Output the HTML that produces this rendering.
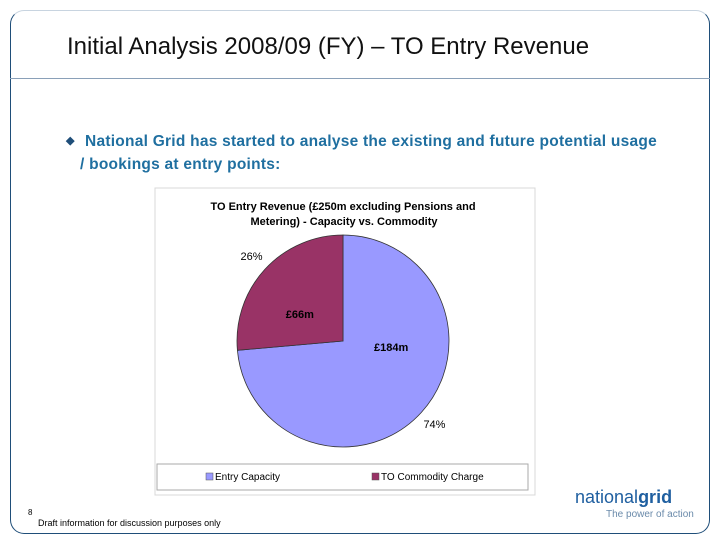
<!DOCTYPE html>
<html><head><meta charset="utf-8"><style>
body{margin:0;width:720px;height:540px;background:#fff;font-family:"Liberation Sans",sans-serif;overflow:hidden;position:relative}
.frame{position:absolute;left:10px;top:10px;width:700px;height:524px;border:1px solid #1f4e79;border-radius:14px;border-top-color:#c8d4e0;box-sizing:border-box}
.hline{position:absolute;left:10px;top:78px;width:700px;height:1px;background:#8aa0b8}
.title{position:absolute;left:67px;top:33px;font-size:24px;color:#111;white-space:nowrap}
.bullet{position:absolute;left:85px;top:130px;font-size:15.5px;color:#1f6fa0;font-weight:bold;line-height:23px;width:640px;white-space:nowrap;letter-spacing:0.25px}
.foot{position:absolute;left:38px;top:518px;font-size:9px;color:#000}
.pg{position:absolute;left:28px;top:508px;font-size:8px}
.logo{position:absolute;left:575px;top:487px;font-size:18px;color:#1f5fa0}
.tag{position:absolute;left:606px;top:509px;font-size:10px;color:#6a8aaa}
</style></head><body>
<div class="frame"></div>
<div class="hline"></div>
<div class="title">Initial Analysis 2008/09 (FY) – TO Entry Revenue</div>
<div class="bullet"><span style="position:absolute;left:-19px;font-size:11px;color:#1f4e79">◆</span>National Grid has started to analyse the existing and future potential usage<br><span style="margin-left:-5px">/ bookings at entry points:</span></div>
<svg id="chart" width="720" height="540" style="position:absolute;left:0;top:0">
<rect x="155" y="188" width="380" height="307" fill="#fff" stroke="#d8d8d8"/>
<text x="343" y="210" text-anchor="middle" font-size="11" font-weight="bold" font-family="Liberation Sans">TO Entry Revenue (£250m excluding Pensions and</text>
<text x="344" y="225" text-anchor="middle" font-size="11" font-weight="bold" font-family="Liberation Sans">Metering) - Capacity vs. Commodity</text>
<g id="slices"></g>
<rect x="157" y="464" width="371" height="26" fill="#fff" stroke="#aaa"/>
<rect x="206" y="473" width="7" height="7" fill="#9999FF" stroke="#555" stroke-width="0.5"/>
<text x="215" y="480" font-size="10" font-family="Liberation Sans">Entry Capacity</text>
<rect x="372" y="473" width="7" height="7" fill="#993366" stroke="#555" stroke-width="0.5"/>
<text x="381" y="480" font-size="10" font-family="Liberation Sans">TO Commodity Charge</text>
</svg>
<div class="pg">8</div>
<div class="foot">Draft information for discussion purposes only</div>
<div class="logo">national<b>grid</b></div>
<div class="tag">The power of action</div>
<script>
const categories=["Entry Capacity","TO Commodity Charge"];
const values=[184,66];
const pctLabels=["74%","26%"];
const valueLabels=["£184m","£66m"];
const colors=["#9999FF","#993366"];
const cx=343,cy=341,r=106;
const g=document.getElementById('slices');
const ns="http://www.w3.org/2000/svg";
const total=values.reduce((a,b)=>a+b,0);
let a0=0;
function pt(a,rr){return [cx+rr*Math.sin(a),cy-rr*Math.cos(a)];}
values.forEach((v,i)=>{
  const a1=a0+v/total*2*Math.PI;
  const p0=pt(a0,r),p1=pt(a1,r);
  const large=(a1-a0)>Math.PI?1:0;
  const p=document.createElementNS(ns,'path');
  p.setAttribute('d',`M${cx},${cy}L${p0[0]},${p0[1]}A${r},${r} 0 ${large} 1 ${p1[0]},${p1[1]}Z`);
  p.setAttribute('fill',colors[i]);p.setAttribute('stroke','#333');p.setAttribute('stroke-width','0.8');
  
  
  g.appendChild(p);
  const m=(a0+a1)/2;
  const lp=pt(m,r*0.45);
  const t=document.createElementNS(ns,'text');
  const dx=i===0?13:-8, dy=i===0?-26:5;
  t.setAttribute('x',lp[0]+dx);t.setAttribute('y',lp[1]+4+dy);t.setAttribute('text-anchor','middle');
  t.setAttribute('font-size','11');t.setAttribute('font-weight','bold');t.setAttribute('font-family','Liberation Sans');
  t.textContent=valueLabels[i];
  
  
  g.appendChild(t);
  const op=pt(m,r*1.17);
  const t2=document.createElementNS(ns,'text');
  t2.setAttribute('x',op[0]);t2.setAttribute('y',op[1]+3);t2.setAttribute('text-anchor','middle');
  t2.setAttribute('font-size','11');t2.setAttribute('font-family','Liberation Sans');
  t2.textContent=pctLabels[i];
  
  
  g.appendChild(t2);
  a0=a1;
});
</script>
</body></html>
